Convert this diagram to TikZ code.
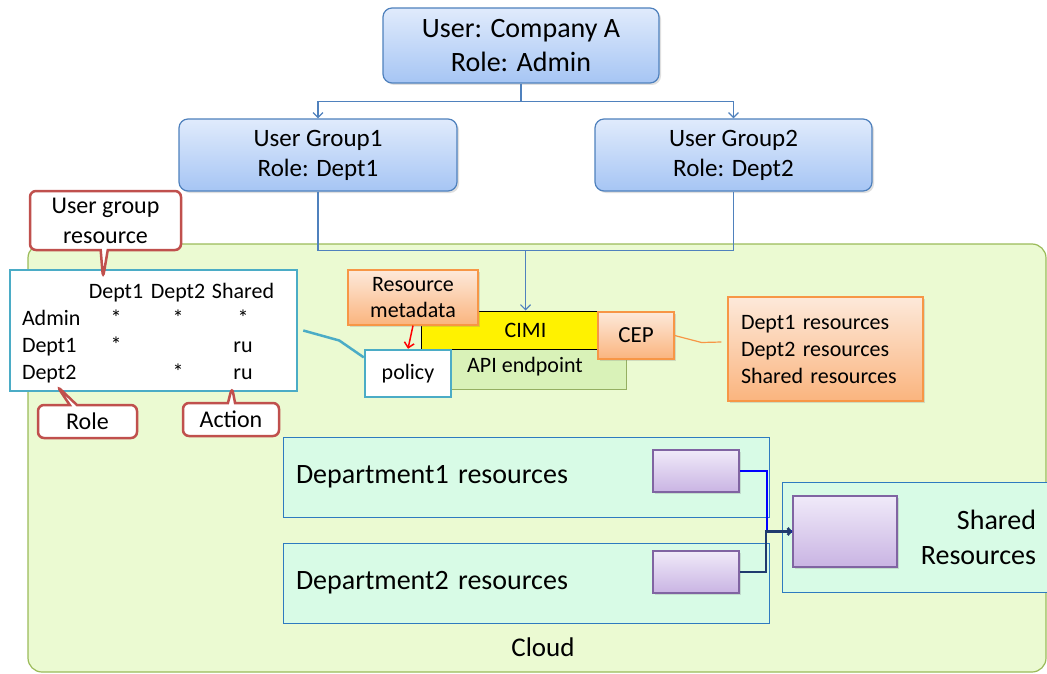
\documentclass[tikz,border=0pt]{standalone}
\usepackage{fontspec}
\setmainfont{Carlito}
\usetikzlibrary{arrows,arrows.meta}
\usetikzlibrary{calc}
\usetikzlibrary{shapes.callouts}
\usetikzlibrary{shadows}
\usetikzlibrary{matrix}

\definecolor{usrline}{HTML}{4F81BD}
\definecolor{usrtop}{HTML}{E0EBFC}
\definecolor{usrbot}{HTML}{A6C5F4}
\definecolor{cloudfill}{HTML}{EBFAD2}
\definecolor{cloudline}{HTML}{9BBB59}
\definecolor{apifill}{HTML}{D9F2B8}
\definecolor{deptfill}{HTML}{D8FBE6}
\definecolor{deptline}{HTML}{2E7AC0}
\definecolor{purpline}{HTML}{8064A2}
\definecolor{purptop}{HTML}{F0EAF9}
\definecolor{purpbot}{HTML}{C9B4E3}
\definecolor{orgline}{HTML}{F79646}
\definecolor{orgtop}{HTML}{FDE9DA}
\definecolor{orgbot}{HTML}{FAB47E}
\definecolor{tealline}{HTML}{4BACC6}
\definecolor{redline}{HTML}{C0504D}
\definecolor{navy}{HTML}{1F3A6E}
\newcommand{\fsz}[2]{\fontsize{#1}{#2}\selectfont}

\begin{document}
\begin{tikzpicture}[x=1pt,y=-1pt,
    >={Straight Barb[length=5pt,width=10pt]},
    box/.style={inner sep=0pt, align=center},
    shade/.style={drop shadow={opacity=.25,shadow xshift=2pt,shadow yshift=-2pt}},
    usrbox/.style={box, shade, draw=usrline, line width=1.2pt, rounded corners=9pt,
      top color=usrtop, bottom color=usrbot},
    orgbox/.style={box, shade, draw=orgline, line width=1.2pt,
      top color=orgtop, bottom color=orgbot, font=\fsz{22}{26}},
    deptbox/.style={box, draw=deptline, line width=1pt, fill=deptfill, font=\fsz{28}{35}},
    purpbox/.style={box, shade, draw=purpline, line width=1.5pt,
      top color=purptop, bottom color=purpbot},
    redcall/.style={rectangle callout, draw=redline, line width=2.5pt, rounded corners=6pt,
      fill=white, inner sep=0pt, align=center, font=\fsz{24}{30}},
    wire/.style={draw=usrline, line width=1.2pt}]
  \path[use as bounding box] (0,0) rectangle (1047,674);
  \clip (0,0) rectangle (1047,674);

  \node[box, draw=cloudline, line width=1.2pt, fill=cloudfill, rounded corners=14pt,
    minimum width=1018, minimum height=428] (cloud) at (537,458) {};
  \node[font=\fsz{27}{32}] (cloudtxt) at (543,647) {Cloud};

  \node[usrbox, minimum width=276, minimum height=75, font=\fsz{28}{34}] (admin) at (521,45.5)
    {User: Company A\\Role: Admin};
  \node[usrbox, minimum width=278, minimum height=72, font=\fsz{25}{30}] (ug1) at (318,155)
    {User Group1\\Role: Dept1};
  \node[usrbox, minimum width=277, minimum height=72, font=\fsz{25}{30}] (ug2) at (733.5,155)
    {User Group2\\Role: Dept2};

  \node[box, draw=cloudline!80!gray, line width=1pt, fill=apifill,
    minimum width=205, minimum height=78] (api) at (523.5,350) {};
  \node[font=\fsz{22}{26}] (apitxt) at (525,367) {API endpoint};
  \node[box, draw=black, line width=1pt, fill=yellow, font=\fsz{22}{26},
    minimum width=209, minimum height=38] (cimi) at (525.5,330) {CIMI};
  \node[orgbox, minimum width=76, minimum height=47, font=\fsz{23}{27}] (cep) at (636,335.5) {CEP};
  \node[orgbox, minimum width=130, minimum height=55] (meta) at (413,297.5) {Resource\\metadata};
  \node[box, draw=tealline, line width=2.5pt, fill=white, font=\fsz{22}{26},
    minimum width=86, minimum height=47] (policy) at (408,373.5) {policy};
  \node[orgbox, minimum width=195, minimum height=104, text width=169, align=left,
    font=\fsz{22}{27}] (res) at (825.5,349)
    {Dept1 resources\\Dept2 resources\\Shared resources};

  \node[box, draw=tealline, line width=2.5pt, fill=white,
    minimum width=287, minimum height=121] (acl) at (153.5,330.5) {};
  \matrix (m) [matrix of nodes, ampersand replacement=\&, anchor=north west, row sep=8pt,
    inner sep=0pt, outer sep=0pt,
    nodes={inner sep=0pt, font=\fsz{22}{26}, text height=15pt, text depth=4pt, align=center},
    column 1/.style={nodes={text width=66pt, align=left}},
    column 2/.style={nodes={text width=56pt}},
    column 3/.style={nodes={text width=68pt}},
    column 4/.style={nodes={text width=62pt}}] at (22,283) {
      \& Dept1 \& Dept2 \& Shared \\
      Admin \& * \& * \& * \\
      Dept1 \& * \& \& ru \\
      Dept2 \& \& * \& ru \\};

  \node[deptbox, minimum width=486, minimum height=80, text width=460, align=left] (dept1)
    at (526,477) {Department1 resources};
  \node[deptbox, minimum width=486, minimum height=80, text width=460, align=left] (dept2)
    at (526,583) {Department2 resources};
  \node[deptbox, minimum width=278, minimum height=110, text width=230, align=right] (shared)
    at (921,537.5) {Shared\\Resources};
  \node[purpbox, minimum width=86, minimum height=42] (p1) at (696,471) {};
  \node[purpbox, minimum width=86, minimum height=42] (p2) at (696,572) {};
  \node[purpbox, minimum width=104, minimum height=71] (sp) at (845,531.5) {};

  \draw[wire,->] (admin.south) -- ++(0,18) -| (ug1.north);
  \draw[wire,->] (admin.south) -- ++(0,18) -| (ug2.north);
  \draw[wire] (ug1.south) -- ++(0,59) -| (ug2.south);
  \coordinate (join) at (525.5,250);
  \draw[wire,->] (join) -- (cimi.north);

  \draw[red, line width=1.5pt, ->] (meta.south) -- (policy.north);
  \draw[tealline, line width=2.5pt] ([xshift=5pt]acl.east) -- ++(36,10) -- (policy.160);
  \draw[orgline, line width=1.2pt] (cep.east) -- ++(27,7) -- ([xshift=-6pt,yshift=7pt]res.west);
  \draw[blue, line width=2.5pt] (p1.east) -- ++(27,0) |- (sp.west);
  \draw[navy, line width=2.5pt, ->, >={Straight Barb[length=3pt,width=7pt]}]
    (p2.east) -- ++(26,0) |- (sp.west);

  \node[redcall, minimum width=151, minimum height=59, callout absolute pointer={(103,278)}]
    (ugres) at (105.5,220.5) {User group\\resource};
  \node[redcall, minimum width=99, minimum height=33, callout absolute pointer={(57,386)}]
    (role) at (87.5,421.5) {Role};
  \node[redcall, minimum width=96, minimum height=33, callout absolute pointer={(232,387)}]
    (action) at (231,419.5) {Action};
\end{tikzpicture}
\end{document}
